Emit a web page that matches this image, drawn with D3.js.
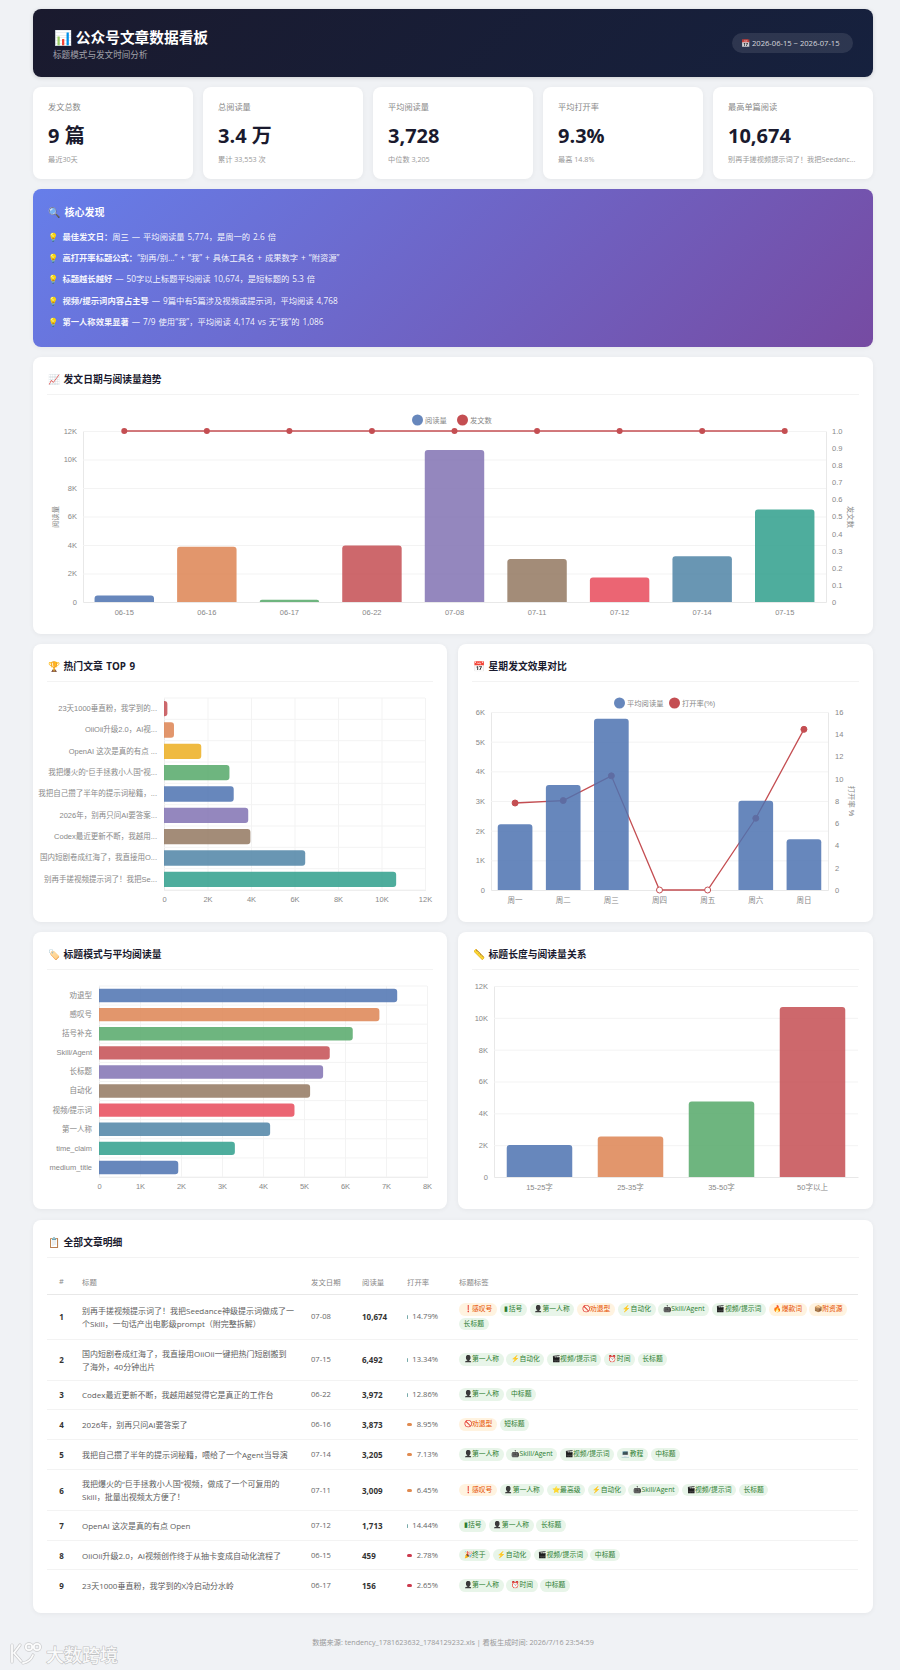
<!DOCTYPE html>
<html lang="zh">
<head>
<meta charset="utf-8">
<title>公众号文章数据看板</title>
<script src="https://cdn.jsdelivr.net/npm/d3@7"></script>
<style>
  * { box-sizing: border-box; }
  html, body { margin: 0; padding: 0; }
  body { width: 900px; height: 1670px; background: #f0f2f5; position: relative; overflow: hidden;
         font-family: "Open Sans", "Noto Sans CJK SC", sans-serif; color: #333; }
  .box { position: absolute; background: #fff; border-radius: 8px; box-shadow: 0 1px 5px rgba(0,0,0,.05); }
  .head { background: linear-gradient(135deg, #1a1a2e, #16213e); color: #fff; box-shadow: 0 1px 4px rgba(0,0,0,.15); }
  .head h1 { position: absolute; left: 21px; top: 17px; margin: 0; font-size: 14.7px; line-height: 22px; font-weight: 700; }
  .head p { position: absolute; left: 20px; top: 40px; margin: 0; font-size: 8.6px; line-height: 12px; color: rgba(255,255,255,.6); }
  .pill { position: absolute; left: 699px; top: 24px; width: 121px; height: 20px; border-radius: 10px; background: rgba(255,255,255,.1);
          font-size: 7.6px; line-height: 20px; padding-left: 9px; color: rgba(255,255,255,.8); white-space: nowrap; }
  .kpi .l { position: absolute; left: 15px; top: 14px; font-size: 8.2px; line-height: 12px; color: #888; }
  .kpi .v { position: absolute; left: 15px; top: 34px; font-size: 20px; line-height: 30px; font-weight: 700; color: #1a1a2e; }
  .kpi .s { position: absolute; left: 15px; top: 67px; font-size: 7.2px; line-height: 11px; color: #999; white-space: nowrap; }
  .insight { background: linear-gradient(135deg, #667eea, #764ba2); color: #fff; }
  .insight h3 { position: absolute; left: 15px; top: 15px; margin: 0; font-size: 10px; line-height: 16px; font-weight: 700; word-spacing: 2px; }
  .insight div { position: absolute; left: 15px; font-size: 8.3px; line-height: 12px; color: rgba(255,255,255,.95); white-space: nowrap; word-spacing: .8px; }
  .ttl { position: absolute; left: 15px; top: 15px; font-size: 9.8px; line-height: 16px; font-weight: 700; color: #1a1a2e; white-space: nowrap; word-spacing: 1px; }
  .rule { position: absolute; left: 14px; right: 14px; top: 37px; height: 1px; background: #f3f3f3; }
  .box svg { position: absolute; left: 0; top: 0; overflow: visible; }
  table { position: absolute; left: 14px; top: 49px; width: 811px; border-collapse: collapse; table-layout: fixed; }
  th { font-size: 7.4px; font-weight: 400; color: #888; text-align: left; padding: 0 6px; height: 25px; border-bottom: 1px solid #e8e8e8; }
  td { font-size: 7.6px; padding: 5px 6px; border-bottom: 1px solid #f3f3f3; color: #666; vertical-align: middle; line-height: 11px; }
  tr:last-child td { border-bottom: none; }
  td.t { font-size: 8px; line-height: 13px; color: #5c5c5c; padding-right: 0; white-space: pre-line; }
  td.r { font-weight: 700; color: #333; font-size: 8px; text-align: center; }
  td.n { font-weight: 700; color: #333; font-size: 8px; }
  td.o { position: relative; text-align: right; padding-right: 15px; }
  td.o i { position: absolute; left: 6px; top: 50%; margin-top: -1.5px; border-radius: 1.5px; }
  td.g { line-height: 0; padding-right: 0; }
  .tag { display: inline-block; height: 12.7px; line-height: 12.7px; margin: 1px 2.7px 1px 0; padding: 0 4.6px; border-radius: 6.4px;
         font-size: 6.8px; background: #e8f5e9; color: #2e7d32; white-space: nowrap; vertical-align: top; }
  .tag.w { background: #fff3e0; color: #e65100; }
  .tag b { font-weight: 400; margin-right: .4px; }
  .tag b.dark { filter: grayscale(1) brightness(.55); }
  .foot { position: absolute; left: 0; width: 906px; top: 1636px; text-align: center; font-size: 7.2px; line-height: 12px; color: #999; }
  .mark { position: absolute; left: 46px; top: 1643px; font: 500 18px/22px "Noto Sans CJK SC", sans-serif; color: rgba(255,255,255,.9);
          -webkit-text-stroke: 1.2px rgba(130,130,130,.45); paint-order: stroke fill; }
</style>
</head>
<body>
<script>
// ---- data ----
const dates = ["06-15", "06-16", "06-17", "06-22", "07-08", "07-11", "07-12", "07-14", "07-15"];
const dateReads = [459, 3873, 156, 3972, 10674, 3009, 1713, 3205, 6492];
const datePosts = [1, 1, 1, 1, 1, 1, 1, 1, 1];
const readTicks = [0, 2000, 4000, 6000, 8000, 10000, 12000];
const postTicks = [0, .1, .2, .3, .4, .5, .6, .7, .8, .9, 1];

const topLabels = ["23天1000垂直粉，我学到的...", "OiiOii升级2.0，AI视...", "OpenAI 这次是真的有点 ...", "我把爆火的“巨手拯救小人国”视...", "我把自己攒了半年的提示词秘籍，...", "2026年，别再只问AI要答案...", "Codex最近更新不断，我越用...", "国内短剧卷成红海了，我直接用O...", "别再手搓视频提示词了！我把Se..."];
const topReads = [156, 459, 1713, 3009, 3205, 3873, 3972, 6492, 10674];

const weekdays = ["周一", "周二", "周三", "周四", "周五", "周六", "周日"];
const weekReads = [2215, 3539, 5774, 0, 0, 3009, 1713];
const weekRates = [7.82, 8.04, 10.26, 0, 0, 6.45, 14.44];
const weekReadTicks = [0, 1000, 2000, 3000, 4000, 5000, 6000];
const weekRateTicks = [0, 2, 4, 6, 8, 10, 12, 14, 16];

const patterns = ["劝退型", "感叹号", "括号补充", "Skill/Agent", "长标题", "自动化", "视频/提示词", "第一人称", "time_claim", "medium_title"];
const patternReads = [7273, 6839, 6189, 5628, 5466, 5149, 4768, 4174, 3314, 1933];
const patternTicks = [0, 1000, 2000, 3000, 4000, 5000, 6000, 7000, 8000];

const lengths = ["15-25字", "25-35字", "35-50字", "50字以上"];
const lengthReads = [2014, 2538, 4741, 10674];

const kpiLabels = ["发文总数", "总阅读量", "平均阅读量", "平均打开率", "最高单篇阅读"];
const kpiValues = ["9 篇", "3.4 万", "3,728", "9.3%", "10,674"];
const kpiNotes = ["最近30天", "累计 33,553 次", "中位数 3,205", "最高 14.8%", "别再手搓视频提示词了！我把Seedanc..."];

const insightHeads = ["最佳发文日：", "高打开率标题公式：", "标题越长越好", "视频/提示词内容占主导", "第一人称效果显著"];
const insightRests = ["周三 — 平均阅读量 5,774，是周一的 2.6 倍", "“别再/别...” + “我” + 具体工具名 + 成果数字 + “附资源”", " — 50字以上标题平均阅读 10,674，是短标题的 5.3 倍", " — 9篇中有5篇涉及视频或提示词，平均阅读 4,768", " — 7/9 使用“我”，平均阅读 4,174 vs 无“我”的 1,086"];

const titles = ["别再手搓视频提示词了！我把Seedance神级提示词做成了一\n个Skill，一句话产出电影级prompt（附完整拆解）", "国内短剧卷成红海了，我直接用OiiOii一键把热门短剧搬到\n了海外，40分钟出片", "Codex最近更新不断，我越用越觉得它是真正的工作台", "2026年，别再只问AI要答案了", "我把自己攒了半年的提示词秘籍，喂给了一个Agent当导演", "我把爆火的“巨手拯救小人国”视频，做成了一个可复用的\nSkill，批量出视频太方便了！", "OpenAI 这次是真的有点 Open", "OiiOii升级2.0，AI视频创作终于从抽卡变成自动化流程了", "23天1000垂直粉，我学到的X冷启动分水岭"];
const postDates = ["07-08", "07-15", "06-22", "06-16", "07-14", "07-11", "07-12", "06-15", "06-17"];
const postReads = [10674, 6492, 3972, 3873, 3205, 3009, 1713, 459, 156];
const postRates = [14.79, 13.34, 12.86, 8.95, 7.13, 6.45, 14.44, 2.78, 2.65];
const postTags = [
  ["❗感叹号", "▮括号", "👤第一人称", "🚫劝退型", "⚡自动化", "🤖Skill/Agent", "🎬视频/提示词", "🔥爆款词", "📦附资源", "长标题"],
  ["👤第一人称", "⚡自动化", "🎬视频/提示词", "⏰时间", "长标题"],
  ["👤第一人称", "中标题"],
  ["🚫劝退型", "短标题"],
  ["👤第一人称", "🤖Skill/Agent", "🎬视频/提示词", "💻教程", "中标题"],
  ["❗感叹号", "👤第一人称", "⭐最高级", "⚡自动化", "🤖Skill/Agent", "🎬视频/提示词", "长标题"],
  ["▮括号", "👤第一人称", "长标题"],
  ["🎉终于", "⚡自动化", "🎬视频/提示词", "中标题"],
  ["👤第一人称", "⏰时间", "中标题"]
];
const warnTags = ["感叹号", "劝退型", "爆款词", "附资源"];
const darkIcons = ["👤", "🤖", "🎬"];

// ---- colours ----
const blue = "#4c72b0", orange = "#dd8452", green = "#55a868", red = "#c44e52", purple = "#8172b3",
      brown = "#937860", coral = "#e84a5a", steel = "#4f84a6", teal = "#2f9f8c", yellow = "#ecae20";
const palette = [blue, orange, green, red, purple, brown, coral, steel, teal];
const topColors = [red, orange, yellow, green, blue, purple, brown, steel, teal];
const patternColors = [blue, orange, green, red, purple, brown, coral, steel, teal, blue];

const kFormat = d => d === 0 ? "0" : d / 1000 + "K";
const chartFont = '"Liberation Sans", "Noto Sans CJK SC", sans-serif';
const rowHeights = [45, 41, 29.5, 30, 30, 41, 30, 29, 31];
const body = d3.select("body");

function box(x, y, w, h, cls) {
  return body.append("div").attr("class", "box " + (cls || ""))
    .style("left", x + "px").style("top", y + "px").style("width", w + "px").style("height", h + "px");
}

function panel(x, y, w, h, title) {
  const b = box(x, y, w, h);
  b.append("div").attr("class", "ttl").text(title);
  b.append("div").attr("class", "rule");
  return b.append("svg").attr("width", w).attr("height", h)
    .style("font-family", chartFont);
}

// rounded on the top (vertical) or on the right (horizontal) only
function barPath(x, y, w, h, horizontal) {
  const p = d3.path();
  if (horizontal) {
    const r = Math.min(3, h / 2, w);
    p.moveTo(x, y); p.lineTo(x + w - r, y); p.arcTo(x + w, y, x + w, y + r, r);
    p.lineTo(x + w, y + h - r); p.arcTo(x + w, y + h, x + w - r, y + h, r); p.lineTo(x, y + h);
  } else {
    const r = Math.min(3, w / 2, h);
    p.moveTo(x, y + h); p.lineTo(x, y + r); p.arcTo(x, y, x + r, y, r);
    p.lineTo(x + w - r, y); p.arcTo(x + w, y, x + w, y + r, r); p.lineTo(x + w, y + h);
  }
  p.closePath();
  return p.toString();
}

function tidy(g, gridOn) {
  g.select(".domain").attr("stroke", "#e8e8e8");
  g.selectAll(".tick line").attr("stroke", gridOn ? "#f3f3f3" : "#e8e8e8");
  g.selectAll("text").attr("fill", "#888").style("font-size", "7.5px").style("font-family", chartFont);
}

function legend(svg, cx, y, items) {
  const g = svg.append("g").attr("transform", `translate(${cx},${y})`);
  let x = 0;
  items.forEach(it => {
    g.append("circle").attr("cx", x + 5.5).attr("r", 5.5).attr("fill", it.color).attr("opacity", it.opacity);
    g.append("text").attr("x", x + 13).attr("dy", "0.35em").attr("fill", "#888").style("font-size", "7.3px").text(it.label);
    x += it.width;
  });
}

function axisTitle(svg, x, y, angle, label) {
  svg.append("text").attr("transform", `translate(${x},${y}) rotate(${angle})`).attr("text-anchor", "middle")
    .attr("dy", "0.35em").attr("fill", "#888").style("font-size", "7.3px").text(label);
}

// ---- header ----
const head = box(33, 9, 840, 68, "head");
head.append("h1").text("📊 公众号文章数据看板");
head.append("p").text("标题模式与发文时间分析");
head.append("div").attr("class", "pill").text("📅 2026-06-15 ~ 2026-07-15");

// ---- kpi cards ----
kpiLabels.forEach((label, i) => {
  const c = box(33 + i * 170, 87, 160, 92, "kpi");
  c.append("div").attr("class", "l").text(label);
  c.append("div").attr("class", "v").text(kpiValues[i]);
  c.append("div").attr("class", "s").text(kpiNotes[i]);
});

// ---- insights ----
const ins = box(33, 189, 840, 158, "insight");
ins.append("h3").text("🔍 核心发现");
insightHeads.forEach((h, i) => {
  const row = ins.append("div").style("top", 42 + i * 21.2 + "px");
  row.append("span").style("margin-right", "1.5px").text("💡 ");
  row.append("b").text(h);
  row.append("span").text(insightRests[i]);
});

// ---- trend ----
{
  const width = 840, height = 277;
  const margin = { top: 74, right: 47, bottom: 32, left: 50 };
  const svg = panel(33, 357, width, height, "📈 发文日期与阅读量趋势");
  const x = d3.scaleBand().domain(dates).range([margin.left, width - margin.right]).paddingInner(.28).paddingOuter(.14);
  const y = d3.scaleLinear().domain([0, 12000]).range([height - margin.bottom, margin.top]);
  const y2 = d3.scaleLinear().domain([0, 1]).range([height - margin.bottom, margin.top]);

  svg.append("g").attr("transform", `translate(${margin.left},0)`)
    .call(d3.axisLeft(y).tickValues(readTicks).tickFormat(kFormat).tickSize(-(width - margin.left - margin.right)).tickPadding(6))
    .call(tidy, true);
  svg.append("g").attr("transform", `translate(${width - margin.right},0)`)
    .call(d3.axisRight(y2).tickValues(postTicks).tickSize(0).tickPadding(6).tickFormat(d => d === 0 ? "0" : d3.format(".1f")(d)))
    .call(tidy, true);
  svg.append("g").attr("transform", `translate(0,${height - margin.bottom})`)
    .call(d3.axisBottom(x).tickSize(0).tickPadding(8))
    .call(tidy, false);

  svg.selectAll(".bar").data(dates).join("path").attr("class", "bar")
    .attr("fill", (d, i) => palette[i]).attr("opacity", .85)
    .attr("d", (d, i) => barPath(x(d), y(dateReads[i]), x.bandwidth(), y(0) - y(dateReads[i])));

  const cx = d => x(d) + x.bandwidth() / 2;
  svg.append("path").attr("fill", "none").attr("stroke", red).attr("stroke-width", 1.5)
    .attr("d", d3.line().x(cx).y((d, i) => y2(datePosts[i]))(dates));
  svg.selectAll(".dot").data(dates).join("circle").attr("class", "dot")
    .attr("cx", cx).attr("cy", (d, i) => y2(datePosts[i])).attr("r", 3).attr("fill", red);

  legend(svg, 379, 63, [
    { label: "阅读量", color: blue, opacity: .85, width: 45 },
    { label: "发文数", color: red, opacity: 1, width: 45 }
  ]);
  axisTitle(svg, 22, 160, -90, "阅读量");
  axisTitle(svg, 818, 160, 90, "发文数");
}

// ---- top 9 ----
{
  const width = 414, height = 278;
  const margin = { top: 54, right: 22, bottom: 32, left: 131 };
  const svg = panel(33, 644, width, height, "🏆 热门文章 TOP 9");
  const x = d3.scaleLinear().domain([0, 12000]).range([margin.left, width - margin.right]);
  const y = d3.scaleBand().domain(topLabels).range([margin.top, height - margin.bottom]).paddingInner(.28).paddingOuter(.14);
  const step = y.step();

  svg.append("g").attr("transform", `translate(0,${height - margin.bottom})`)
    .call(d3.axisBottom(x).tickValues(readTicks).tickFormat(kFormat).tickSize(-(height - margin.top - margin.bottom)).tickPadding(7))
    .call(tidy, true);
  svg.append("g").attr("transform", `translate(${margin.left},0)`)
    .call(d3.axisLeft(y).tickSize(0).tickPadding(7))
    .call(tidy, true);
  svg.append("g").selectAll("line").data(d3.range(topLabels.length + 1)).join("line")
    .attr("x1", margin.left).attr("x2", width - margin.right)
    .attr("y1", i => margin.top + i * step).attr("y2", i => margin.top + i * step).attr("stroke", "#f3f3f3");

  svg.selectAll(".bar").data(topLabels).join("path").attr("class", "bar")
    .attr("fill", (d, i) => topColors[i]).attr("opacity", .85)
    .attr("d", (d, i) => barPath(x(0), y(d), x(topReads[i]) - x(0), y.bandwidth(), true));
}

// ---- weekday ----
{
  const width = 415, height = 278;
  const margin = { top: 68, right: 45, bottom: 32, left: 33 };
  const svg = panel(458, 644, width, height, "📅 星期发文效果对比");
  const x = d3.scaleBand().domain(weekdays).range([margin.left, width - margin.right]).paddingInner(.28).paddingOuter(.14);
  const y = d3.scaleLinear().domain([0, 6000]).range([height - margin.bottom, margin.top]);
  const y2 = d3.scaleLinear().domain([0, 16]).range([height - margin.bottom, margin.top]);

  svg.append("g").attr("transform", `translate(${margin.left},0)`)
    .call(d3.axisLeft(y).tickValues(weekReadTicks).tickFormat(kFormat).tickSize(-(width - margin.left - margin.right)).tickPadding(6))
    .call(tidy, true);
  svg.append("g").attr("transform", `translate(${width - margin.right},0)`)
    .call(d3.axisRight(y2).tickValues(weekRateTicks).tickSize(0).tickPadding(7))
    .call(tidy, true);
  svg.append("g").attr("transform", `translate(0,${height - margin.bottom})`)
    .call(d3.axisBottom(x).tickSize(0).tickPadding(8))
    .call(tidy, false);

  // the line sits under the translucent bars, as in the reference
  const cx = d => x(d) + x.bandwidth() / 2;
  svg.append("path").attr("fill", "none").attr("stroke", red).attr("stroke-width", 1.3)
    .attr("d", d3.line().x(cx).y((d, i) => y2(weekRates[i]))(weekdays));
  svg.selectAll(".dot").data(weekdays).join("circle").attr("class", "dot")
    .attr("cx", cx).attr("cy", (d, i) => y2(weekRates[i])).attr("r", 3)
    .attr("fill", (d, i) => weekRates[i] === 0 ? "#fff" : red).attr("stroke", red);
  svg.selectAll(".bar").data(weekdays).join("path").attr("class", "bar")
    .attr("fill", blue).attr("opacity", .85)
    .attr("d", (d, i) => weekReads[i] ? barPath(x(d), y(weekReads[i]), x.bandwidth(), y(0) - y(weekReads[i])) : null);

  legend(svg, 156, 59, [
    { label: "平均阅读量", color: blue, opacity: .85, width: 55 },
    { label: "打开率(%)", color: red, opacity: 1, width: 50 }
  ]);
  axisTitle(svg, 394, 157, 90, "打开率 %");
}

// ---- title patterns ----
{
  const width = 414, height = 277;
  const margin = { top: 54, right: 20, bottom: 32, left: 66 };
  const svg = panel(33, 932, width, height, "🏷️ 标题模式与平均阅读量");
  const x = d3.scaleLinear().domain([0, 8000]).range([margin.left, width - margin.right]);
  const y = d3.scaleBand().domain(patterns).range([margin.top, height - margin.bottom]).paddingInner(.3).paddingOuter(.15);
  const step = y.step();

  svg.append("g").attr("transform", `translate(0,${height - margin.bottom})`)
    .call(d3.axisBottom(x).tickValues(patternTicks).tickFormat(kFormat).tickSize(-(height - margin.top - margin.bottom)).tickPadding(7))
    .call(tidy, true);
  svg.append("g").attr("transform", `translate(${margin.left},0)`)
    .call(d3.axisLeft(y).tickSize(0).tickPadding(7))
    .call(tidy, true);
  svg.append("g").selectAll("line").data(d3.range(patterns.length + 1)).join("line")
    .attr("x1", margin.left).attr("x2", width - margin.right)
    .attr("y1", i => margin.top + i * step).attr("y2", i => margin.top + i * step).attr("stroke", "#f3f3f3");

  svg.selectAll(".bar").data(patterns).join("path").attr("class", "bar")
    .attr("fill", (d, i) => patternColors[i]).attr("opacity", .85)
    .attr("d", (d, i) => barPath(x(0), y(d), x(patternReads[i]) - x(0), y.bandwidth(), true));
}

// ---- title length ----
{
  const width = 415, height = 277;
  const margin = { top: 54, right: 15, bottom: 32, left: 36 };
  const svg = panel(458, 932, width, height, "📏 标题长度与阅读量关系");
  const x = d3.scaleBand().domain(lengths).range([margin.left, width - margin.right]).paddingInner(.28).paddingOuter(.14);
  const y = d3.scaleLinear().domain([0, 12000]).range([height - margin.bottom, margin.top]);

  svg.append("g").attr("transform", `translate(${margin.left},0)`)
    .call(d3.axisLeft(y).tickValues(readTicks).tickFormat(kFormat).tickSize(-(width - margin.left - margin.right)).tickPadding(6))
    .call(tidy, true);
  svg.append("g").attr("transform", `translate(0,${height - margin.bottom})`)
    .call(d3.axisBottom(x).tickSize(0).tickPadding(8))
    .call(tidy, false);
  svg.selectAll(".bar").data(lengths).join("path").attr("class", "bar")
    .attr("fill", (d, i) => palette[i]).attr("opacity", .85)
    .attr("d", (d, i) => barPath(x(d), y(lengthReads[i]), x.bandwidth(), y(0) - y(lengthReads[i])));
}

// ---- article table ----
{
  const b = box(33, 1220, 840, 393);
  b.append("div").attr("class", "ttl").text("📋 全部文章明细");
  b.append("div").attr("class", "rule");
  const table = b.append("table");
  const cols = [29, 229, 51, 45, 52, 405];
  table.append("colgroup").selectAll("col").data(cols).join("col").style("width", d => d + "px");
  table.append("thead").append("tr").selectAll("th")
    .data(["#", "标题", "发文日期", "阅读量", "打开率", "标题标签"]).join("th")
    .style("text-align", (d, i) => i === 0 ? "center" : null).text(d => d);
  const rows = table.append("tbody").selectAll("tr").data(titles).join("tr")
    .style("height", (d, i) => rowHeights[i] + "px");
  rows.append("td").attr("class", "r").text((d, i) => i + 1);
  rows.append("td").attr("class", "t").text(d => d);
  rows.append("td").text((d, i) => postDates[i]);
  rows.append("td").attr("class", "n").text((d, i) => d3.format(",")(postReads[i]));
  const rate = rows.append("td").attr("class", "o");
  rate.append("i").each(function (d, i) {
    const v = postRates[i];
    const s = d3.select(this);
    if (v >= 10) s.style("width", "1px").style("height", "4px").style("margin-top", "-2px").style("background", "#7aa");
    else s.style("width", "5px").style("height", "3px").style("background", v >= 5 ? "#e08a50" : "#cc3a4d");
  });
  rate.append("span").text((d, i) => postRates[i].toFixed(2) + "%");

  const tags = rows.append("td").attr("class", "g").selectAll("span")
    .data((d, i) => postTags[i]).join("span")
    .attr("class", d => "tag" + (warnTags.some(w => d.endsWith(w)) ? " w" : ""));
  tags.each(function (d) {
    const icon = d.match(/^[^\u4e00-\u9fffA-Za-z]+/);
    const s = d3.select(this);
    if (icon) s.append("b").classed("dark", darkIcons.includes(icon[0])).text(icon[0]);
    s.append("span").text(icon ? d.slice(icon[0].length) : d);
  });
}

// ---- footer ----
body.append("div").attr("class", "foot").text("数据来源: tendency_1781623632_1784129232.xls | 看板生成时间: 2026/7/16 23:54:59");

// watermark in the lower left corner
const logo = body.append("svg").attr("width", 46).attr("height", 34)
  .style("position", "absolute").style("left", 0).style("top", "1636px")
  .attr("fill", "none").attr("stroke-linecap", "round");
[["#9a9a9a", 3.2, .45], ["#fff", 1.8, .95]].forEach(([c, w, o]) => {
  const g = logo.append("g").attr("stroke", c).attr("stroke-width", w).attr("opacity", o);
  g.append("path").attr("d", "M12 9V26M20 9L14 17L21 25");
  g.append("path").attr("d", "M23 27A13 13 0 0 0 33 19");
  g.append("circle").attr("cx", 29).attr("cy", 11).attr("r", 3.2);
  g.append("circle").attr("cx", 37).attr("cy", 11).attr("r", 3.2);
});
body.append("div").attr("class", "mark").text("大数跨境");
</script>
</body>
</html>
